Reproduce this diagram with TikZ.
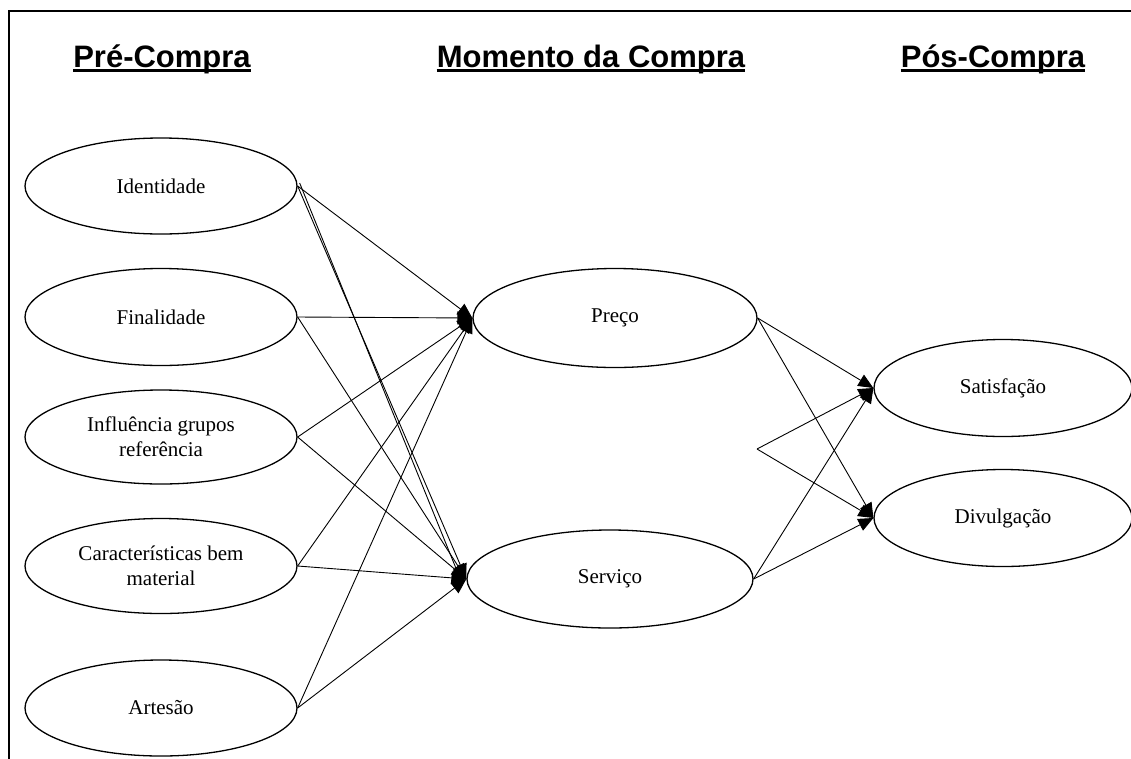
\documentclass[tikz,border=0pt]{standalone}
\usepackage{fontspec}
\setmainfont{Liberation Serif}
\newfontfamily\titlefont{Liberation Sans}
\usetikzlibrary{shapes.geometric,arrows.meta}
\begin{document}
\begin{tikzpicture}[x=1pt,y=-1pt,
  oval/.style={ellipse,draw,line width=1.3pt,inner sep=0pt,align=center,
    font=\fontsize{21}{25}\selectfont},
  ttl/.style={font=\titlefont\bfseries\fontsize{31}{36}\selectfont,inner sep=0pt,anchor=base},
  conn/.style={line width=0.9pt,-{Triangle[length=15pt,width=13pt]}},
  uline/.style={line width=3pt}]
\useasboundingbox (0,0) rectangle (1131,758);
\draw[line width=1.5pt] (9,760) -- (9,11) -- (1133,11);
% titles
\node[ttl] (t1) at (162,67) {Pré-Compra};
\node[ttl] (t2) at (591,67) {Momento da Compra};
\node[ttl] (t3) at (993,67) {Pós-Compra};
\foreach \t in {t1,t2,t3}{\draw[uline] ([yshift=-3pt]\t.base west) -- ([yshift=-3pt]\t.base east);}
% left column
\node[oval,minimum width=272pt,minimum height=96pt] (ide) at (161,186) {Identidade};
\node[oval,minimum width=272pt,minimum height=97pt] (fin) at (161,317) {Finalidade};
\node[oval,minimum width=272pt,minimum height=94pt] (inf) at (161,437) {Influência grupos\\referência};
\node[oval,minimum width=272pt,minimum height=95pt] (car) at (161,566) {Características bem\\material};
\node[oval,minimum width=272pt,minimum height=96pt] (art) at (161,708) {Artesão};
% middle column
\node[oval,minimum width=284pt,minimum height=99pt] (pre) at (615,318) {Preço};
\node[oval,minimum width=286pt,minimum height=98pt] (ser) at (610,579) {Serviço};
% right column
\node[oval,minimum width=258pt,minimum height=97pt] (sat) at (1003,388) {Satisfação};
\node[oval,minimum width=258pt,minimum height=97pt] (div) at (1003,518) {Divulgação};
% connectors to Preço and Serviço
\foreach \s in {ide,fin,inf,car,art}{
  \draw[conn] (\s.east) -- (pre.west);
  \draw[conn] (\s.east) -- (ser.west);
}
\draw[line width=0.9pt] ([shift={(2pt,3pt)}]ide.east) -- ([shift={(-4pt,-5pt)}]ser.west);
% connectors to Satisfação and Divulgação
\foreach \s in {pre,ser}{
  \draw[conn] (\s.east) -- (sat.west);
  \draw[conn] (\s.east) -- (div.west);
}
\coordinate (v) at (757,449);
\draw[conn] (v) -- (sat.west);
\draw[conn] (v) -- (div.west);
\end{tikzpicture}
\end{document}
